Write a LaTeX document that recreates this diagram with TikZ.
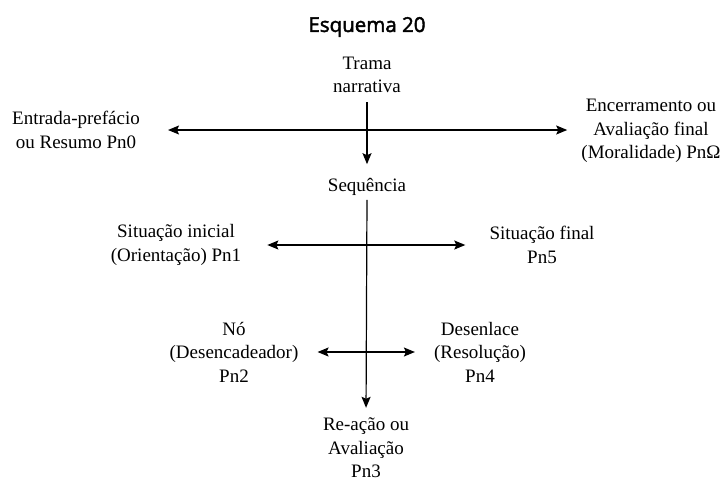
\documentclass[tikz,border=0pt]{standalone}
\usepackage{fontspec}
\setmainfont{Liberation Serif}
\newfontfamily\titlefont{Open Sans}[FakeBold=2.2]
\usetikzlibrary{arrows.meta}

\begin{document}
\begin{tikzpicture}
  [x=1pt,y=-1pt,
   >={Stealth[length=11pt,width=9pt,inset=2pt]},
   text node/.style={align=center,inner sep=2pt,font=\fontsize{19}{23.5}\selectfont},
   title node/.style={inner sep=2pt,font=\titlefont\fontsize{20.5}{24}\selectfont},
   link/.style={line width=1.2pt}]
  \useasboundingbox (0,0) rectangle (725,483);

  \node[title node] (title) at (367,27) {Esquema 20};
  \node[text node] (trama) at (367,75) {Trama\\narrativa};
  \node[text node] (entrada) at (76,130) {Entrada-prefácio\\ou Resumo Pn0};
  \node[text node] (encerr) at (651,131) {Encerramento ou\\Avaliação final\\(Moralidade) PnΩ};
  \node[text node] (seq) at (367,187) {Sequência};
  \node[text node] (sitini) at (176,245) {Situação inicial\\(Orientação) Pn1};
  \node[text node] (sitfin) at (542,245) {Situação final\\Pn5};
  \node[text node] (no) at (234,352) {Nó\\(Desencadeador)\\Pn2};
  \node[text node] (desen) at (480,352) {Desenlace\\(Resolução)\\Pn4};
  \node[text node] (reacao) at (366,448) {Re-ação ou\\Avaliação\\Pn3};

  \path[] (trama.south) [->, link, shorten <=7pt, shorten >=12pt] edge (seq.north);
  \path[] (entrada.east) [<->, link, shorten <=26pt, shorten >=12pt] edge (encerr.west |- entrada.east);
  \path[] (seq.south) [->, link, shorten <=2pt, shorten >=8pt] edge (reacao.north);
  \path[] (sitini.east) [<->, link, shorten <=24pt, shorten >=22pt] edge (sitfin.west);
  \path[] (no.east) [<->, link, shorten <=17pt, shorten >=17pt] edge (desen.west);
\end{tikzpicture}
\end{document}
